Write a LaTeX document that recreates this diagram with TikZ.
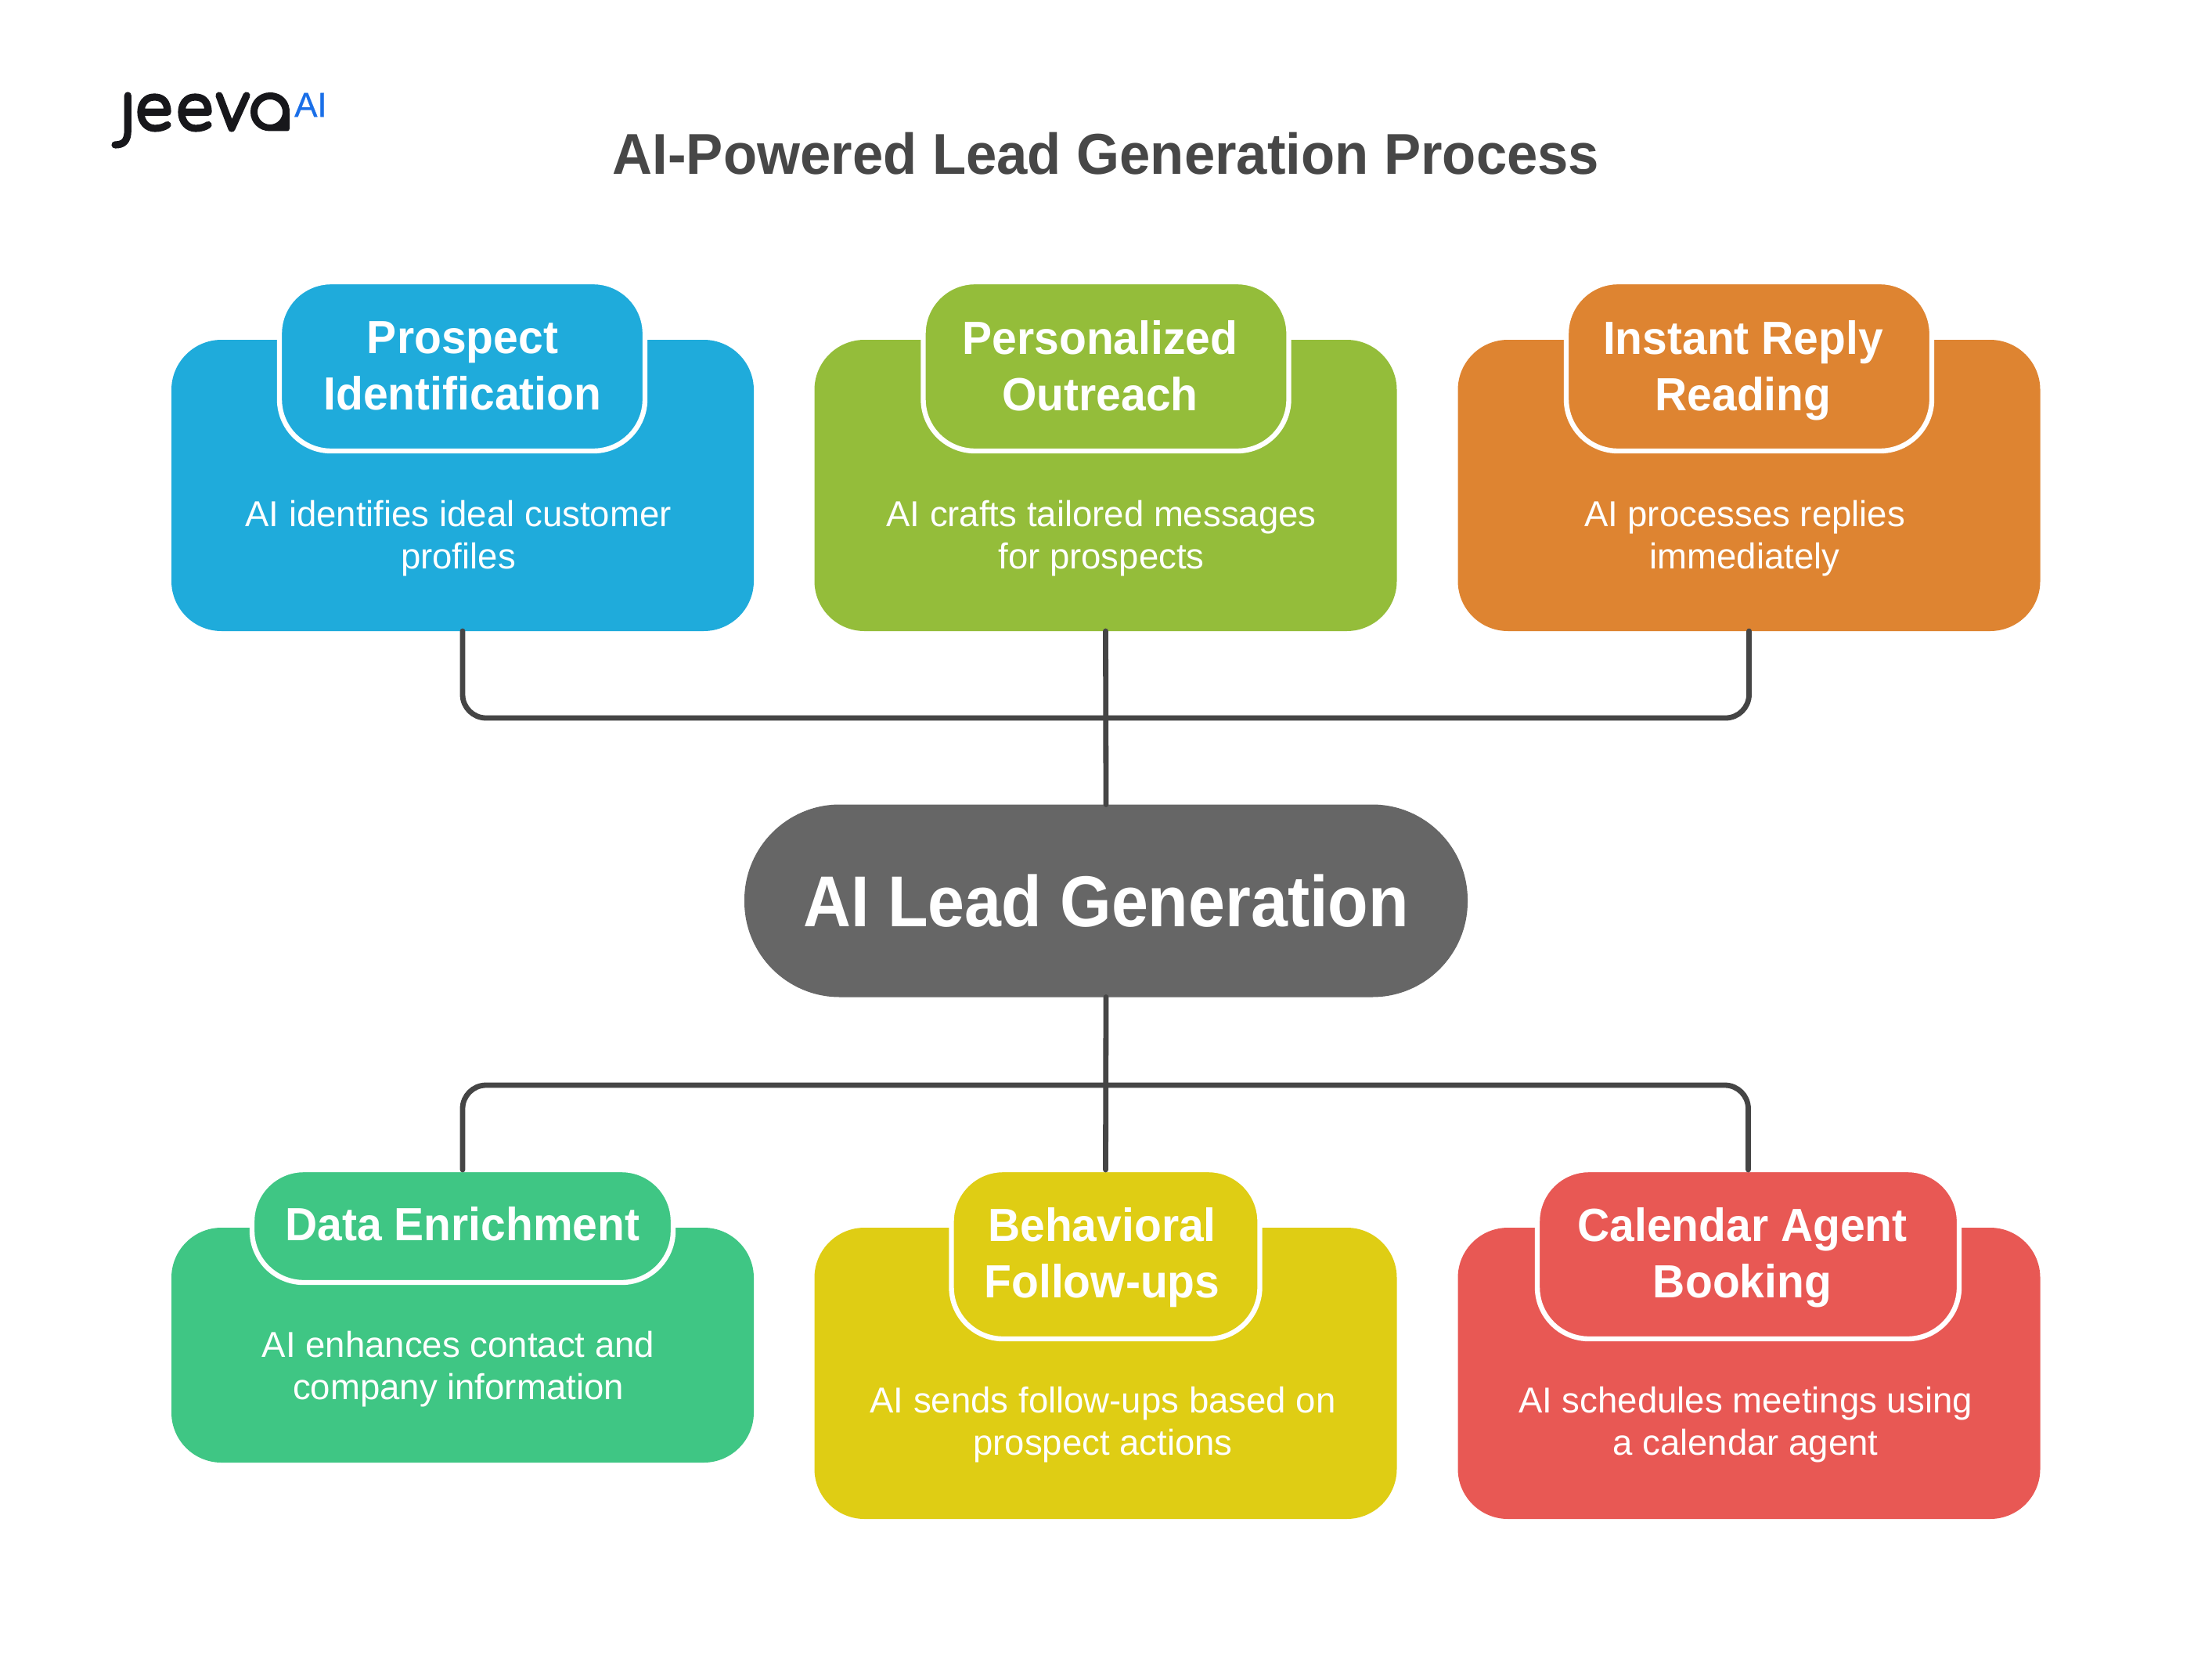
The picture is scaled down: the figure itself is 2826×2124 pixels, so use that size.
\documentclass[tikz,border=0pt]{standalone}
\usepackage{fontspec}
\setmainfont{Liberation Sans}
\newfontfamily\hdfont[FakeStretch=0.96]{Liberation Sans Bold}
\newfontfamily\ctfont[FakeStretch=0.917]{Liberation Sans Bold}
\newfontfamily\dsfont[FakeStretch=0.99]{Liberation Sans}
\newfontfamily\aifont[FakeBold=0.6]{Liberation Sans}
\definecolor{cblue}{HTML}{1FABDB}
\definecolor{cgreen}{HTML}{94BD3A}
\definecolor{corange}{HTML}{DE8431}
\definecolor{cteal}{HTML}{3FC684}
\definecolor{cyellow}{HTML}{DFCD14}
\definecolor{cred}{HTML}{E85854}
\definecolor{ccenter}{HTML}{666666}
\definecolor{cline}{HTML}{454545}
\definecolor{ctitle}{HTML}{474747}
\definecolor{clogo}{HTML}{17171B}
\definecolor{cai}{HTML}{1A6FE8}
\tikzset{
  cardbox/.style={rectangle,rounded corners=32pt,inner sep=0pt,outer sep=0pt,minimum width=372pt,fill=#1},
  headbox/.style={rectangle,rounded corners=33pt,inner sep=0pt,outer sep=0pt,fill=#1,draw=white,line width=3.2pt},
  headtext/.style={text=white,align=center,inner sep=0pt,font=\hdfont\fontsize{29.7}{36}\selectfont,
     execute at begin node=\strut,execute at end node=\strut},
  desc/.style={text=white,align=center,inner sep=0pt,font=\dsfont\fontsize{23}{27}\selectfont,
     execute at begin node=\strut,execute at end node=\strut},
  conn/.style={draw=cline,line width=3.4pt,line cap=round,rounded corners=15pt},
  logostroke/.style={draw=clogo,line width=4.6pt,line cap=round,line join=round},
}
\begin{document}
\begin{tikzpicture}[x=0.5pt,y=-0.5pt]
\useasboundingbox (0,0) rectangle (2826,2124);
\fill[white] (0,0) rectangle (2826,2124);
% logo
\begin{scope}[logostroke]
\draw (163.3,122) -- (163.3,166) .. controls (163.3,180) and (158,185) .. (147,185);
\draw (183,143.3) -- (214,143.3) .. controls (214,128) and (206,124) .. (197,124) .. controls (185,124) and (180,134) .. (180,143.3) .. controls (180,156) and (188,164) .. (198,164) .. controls (205,164) and (210,162) .. (214,159.5);
\draw (235,143.3) -- (266,143.3) .. controls (266,128) and (258,124) .. (249,124) .. controls (237,124) and (232,134) .. (232,143.3) .. controls (232,156) and (240,164) .. (250,164) .. controls (257,164) and (262,162) .. (266,159.5);
\draw (280,122) -- (296,164) -- (315,122);
\end{scope}
\fill[clogo,even odd rule] (345,118) .. controls (361,118) and (371,130) .. (370,145) -- (370,164) .. controls (370,166) and (369,167.5) .. (367,167.5) -- (345,167.5) .. controls (331,167.5) and (320,157) .. (320,143) .. controls (320,129) and (331,118) .. (345,118) -- cycle (345,143) circle[radius=16];
\node[inner sep=0pt,text=cai,font=\aifont\fontsize{22}{22}\selectfont] (logoai) at (397,134) {AI};
% title
\node[inner sep=0pt,text=ctitle,font=\hdfont\fontsize{36.8}{37}\selectfont] (title) at (1413,196) {AI-Powered Lead Generation Process};
% cards
\node[cardbox=cblue,minimum height=186pt] (c1) at (591,620) {};
\node[cardbox=cgreen,minimum height=186pt] (c2) at (1412.5,620) {};
\node[cardbox=corange,minimum height=186pt] (c3) at (2234.5,620) {};
\node[cardbox=cteal,minimum height=150pt] (c4) at (591,1718) {};
\node[cardbox=cyellow,minimum height=186pt] (c5) at (1412.5,1754) {};
\node[cardbox=cred,minimum height=186pt] (c6) at (2234.5,1754) {};
% headers
\node[headbox=cblue,minimum width=233.5pt,minimum height=108pt] (h1) at (590.5,468) {};
\node[headbox=cgreen,minimum width=233.5pt,minimum height=108pt] (h2) at (1413,468) {};
\node[headbox=corange,minimum width=233.5pt,minimum height=108pt] (h3) at (2234.5,468) {};
\node[headbox=cteal,minimum width=269pt,minimum height=72pt] (h4) at (591,1566) {};
\node[headbox=cyellow,minimum width=197pt,minimum height=108pt] (h5) at (1412.5,1602) {};
\node[headbox=cred,minimum width=269.5pt,minimum height=108pt] (h6) at (2233.5,1602) {};
\node[headtext] (t1) at (591,478) {Prospect\\Identification};
\node[headtext] (t2) at (1405.5,478) {Personalized\\Outreach};
\node[headtext] (t3) at (2227,478) {Instant Reply\\Reading};
\node[headtext] (t4) at (591,1570.5) {Data Enrichment};
\node[headtext] (t5) at (1408,1611) {Behavioral\\Follow-ups};
\node[headtext] (t6) at (2226,1611) {Calendar Agent\\Booking};
% descriptions
\node[desc] (d1) at (585.5,690.5) {AI identifies ideal customer\\profiles};
\node[desc] (d2) at (1407,690.5) {AI crafts tailored messages\\for prospects};
\node[desc] (d3) at (2229,690.5) {AI processes replies\\immediately};
\node[desc] (d4) at (585.5,1752) {AI enhances contact and\\company information};
\node[desc] (d5) at (1409,1823) {AI sends follow-ups based on\\prospect actions};
\node[desc] (d6) at (2230,1823) {AI schedules meetings using\\a calendar agent};
% centre
\node[rectangle,rounded corners=61pt,inner sep=0pt,outer sep=0pt,fill=ccenter,minimum width=462pt,minimum height=123pt,text=white,font=\ctfont\fontsize{46}{46}\selectfont] (ctr) at (1413,1150.5) {AI Lead Generation};
% junctions
\coordinate (jt) at (1413,917);
\coordinate (jb) at (1413,1386);
% connectors
\draw[conn] (c1.south) |- (jt) -| (c3.south);
\draw[conn] (c2.south) -- (ctr.north);
\draw[conn] (ctr.south) -- (h5.north);
\draw[conn] (h4.north) |- (jb) -| (h6.north);
\end{tikzpicture}
\end{document}
